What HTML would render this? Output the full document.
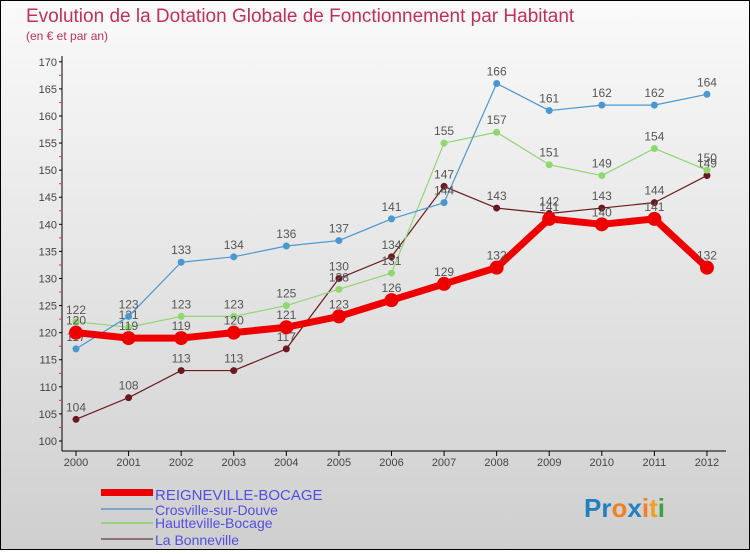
<!DOCTYPE html>
<html><head><meta charset="utf-8"><style>
body{margin:0;width:750px;height:550px;overflow:hidden;font-family:"Liberation Sans",sans-serif}
#wrap{position:relative;width:748px;height:548px;border:1px solid #000;background:linear-gradient(#fafafa,#cfcfcf)}
</style></head><body>
<div id="wrap">
<svg id="svg" width="748" height="548" xmlns="http://www.w3.org/2000/svg">
<text x="25" y="21" font-size="19" fill="#c0305a">Evolution de la Dotation Globale de Fonctionnement par Habitant</text>
<text x="25" y="39" font-size="12" fill="#c0305a">(en € et par an)</text>
<g id="axes"></g><g id="series"></g>
<g>
<rect x="100" y="488" width="52" height="7" fill="#e00"/>
<text x="154" y="499" font-size="15" fill="#5050e0">REIGNEVILLE-BOCAGE</text>
<rect x="100" y="507" width="52" height="2" fill="#7aa7c8"/>
<text x="154" y="514" font-size="14" fill="#5050e0">Crosville-sur-Douve</text>
<rect x="100" y="521" width="52" height="2" fill="#98d080"/>
<text x="154" y="527" font-size="14" fill="#5050e0">Hautteville-Bocage</text>
<rect x="100" y="537" width="52" height="2" fill="#907070"/>
<text x="154" y="544" font-size="14" fill="#5050e0">La Bonneville</text>
</g>
<text x="583" y="516" font-size="26" font-weight="bold"><tspan fill="#2080c0">Pr</tspan><tspan fill="#f08020">o</tspan><tspan fill="#2080c0">x</tspan><tspan fill="#f08020">i</tspan><tspan fill="#f0a020">t</tspan><tspan fill="#40a040">i</tspan></text>
</svg></div>
<script>
const years=[2000,2001,2002,2003,2004,2005,2006,2007,2008,2009,2010,2011,2012];
const reigneville=[120,119,119,120,121,123,126,129,132,141,140,141,132];
const crosville=[117,123,133,134,136,137,141,144,166,161,162,162,164];
const hautteville=[122,121,123,123,125,128,131,155,157,151,149,154,150];
const bonneville=[104,108,113,113,117,130,134,147,143,142,143,144,149];
const yTicks=[100,105,110,115,120,125,130,135,140,145,150,155,160,165,170];
const NS="http://www.w3.org/2000/svg";
const x=i=>75+i*52.58;
const y=v=>440-(v-100)*5.417;
function mk(t,a,p){const e=document.createElementNS(NS,t);for(const k in a)e.setAttribute(k,a[k]);p.appendChild(e);return e;}
const ax=document.getElementById('axes');
const yl=mk('line',{x1:61,y1:55,x2:61,y2:450,stroke:'#000'},ax);


const xl=mk('line',{x1:61,y1:450,x2:725,y2:450,stroke:'#000'},ax);


yTicks.forEach(v=>{
 mk('line',{x1:58,y1:y(v),x2:61,y2:y(v),stroke:'#000'},ax);
 if(v<170)mk('line',{x1:58,y1:y(v+2.5),x2:61,y2:y(v+2.5),stroke:'#e33'},ax);
 const t=mk('text',{x:56,y:y(v)+4,'font-size':11,fill:'#444','text-anchor':'end'},ax);t.textContent=v;
 
 
});
years.forEach((yr,i)=>{
 mk('line',{x1:x(i),y1:450,x2:x(i),y2:455,stroke:'#000'},ax);
 const t=mk('text',{x:x(i),y:465,'font-size':11,fill:'#444','text-anchor':'middle'},ax);t.textContent=yr;
 
 
});
const sg=document.getElementById('series');
function series(data,color,w,r,name){
 const g=mk('g',{},sg);
 
 
 mk('polyline',{points:data.map((v,i)=>x(i)+','+y(v)).join(' '),fill:'none',stroke:color,'stroke-width':w,'stroke-linejoin':'round'},g);
 data.forEach((v,i)=>{
  const c=mk('circle',{cx:x(i),cy:y(v),r:r,fill:color},g);
  
  
  const t=mk('text',{x:x(i),y:y(v)-8,'font-size':12,fill:'#555','text-anchor':'middle'},g);t.textContent=v;
  
  
 });
}
series(bonneville,'#6a1a1e',1.2,3.5,'bonneville');
series(hautteville,'#8fd870',1.2,3.5,'hautteville');
series(crosville,'#4a98d0',1.2,3.5,'crosville');
series(reigneville,'#ee0000',7,7,'reigneville');
</script>
</body></html>
